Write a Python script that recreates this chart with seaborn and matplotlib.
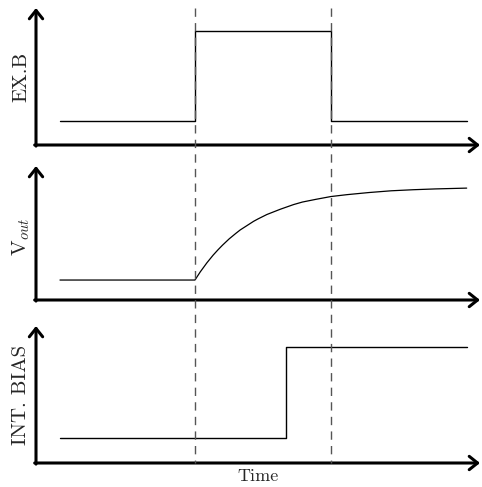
import numpy as np
import matplotlib
matplotlib.use("Agg")
import matplotlib.pyplot as plt
import seaborn as sns
import pandas as pd

sns.set_style("white")
plt.rcParams['font.family'] = ['cmr10', 'Liberation Serif', 'DejaVu Serif']
plt.rcParams['mathtext.fontset'] = 'cm'
plt.rcParams['axes.formatter.use_mathtext'] = True

# signals (time units 0..10, amplitude 0..1)
t_ex = [0.54, 3.57, 6.64, 9.71]
ex_b = [0.175, 0.83, 0.175, 0.175]

t_vout = [0.54, 3.58, 3.7, 3.85, 3.99, 4.1, 4.2, 4.35, 4.5, 4.6, 4.75, 4.9, 5.0,
          5.2, 5.5, 5.8, 6.0, 6.3, 6.64, 7.0, 7.5, 8.0, 8.5, 9.0, 9.7]
v_out = [0.149, 0.149, 0.210, 0.278, 0.335, 0.375, 0.409, 0.456, 0.497, 0.523,
         0.555, 0.587, 0.605, 0.638, 0.677, 0.712, 0.731, 0.751, 0.772, 0.786,
         0.802, 0.815, 0.823, 0.829, 0.835]

t_bias = [0.54, 5.63, 9.71]
int_bias = [0.18, 0.85, 0.85]

edges = [3.57, 6.64]   # dashed markers
labels = ['EX.B', r'V$_{\mathit{out}}$', 'INT. BIAS']

W, H = 482, 487
fig = plt.figure(figsize=(W / 100, H / 100), dpi=100)

def px_axes(top, bottom):
    return fig.add_axes([36 / W, (H - bottom) / H, 444 / W, (bottom - top) / H])

ax1 = px_axes(8, 145)
ax2 = px_axes(166, 300)
ax3 = px_axes(326, 463)
axes = [ax1, ax2, ax3]

sns.lineplot(x=t_ex, y=ex_b, ax=ax1, color='black', lw=1.0,
             drawstyle='steps-post', estimator=None, sort=False)
sns.lineplot(x=t_vout, y=v_out, ax=ax2, color='black', lw=0.9,
             estimator=None, sort=False)
sns.lineplot(x=t_bias, y=int_bias, ax=ax3, color='black', lw=1.0,
             drawstyle='steps-post', estimator=None, sort=False)

label_y = [0.5, 0.47, 0.5]
for ax, lab, ly in zip(axes, labels, label_y):
    ax.set_xlim(0, 10)
    ax.set_ylim(0, 1)
    ax.set_xticks([])
    ax.set_yticks([])
    for s in ax.spines.values():
        s.set_visible(False)
    ax.patch.set_alpha(0)
    arrow = dict(arrowstyle='->,head_length=0.5,head_width=0.4', lw=2.2,
                 color='black', shrinkA=0, shrinkB=0, mutation_scale=12)
    ax.annotate('', xy=(1, 0), xytext=(-0.003, 0), xycoords='axes fraction',
                arrowprops=arrow)
    ax.annotate('', xy=(0, 1), xytext=(0, -0.008), xycoords='axes fraction',
                arrowprops=arrow)
    ax.text(-15 / 444, ly, lab, rotation=90, ha='center', va='center',
            fontsize=15, transform=ax.transAxes)

ax3.text(0.5, -13 / 137, 'Time', ha='center', va='center', fontsize=13,
         transform=ax3.transAxes)

# overlay for dashed lines through all panels
ov = fig.add_axes([36 / W, 0, 444 / W, 1])
ov.set_xlim(0, 10)
ov.set_ylim(H, 0)
ov.axis('off')
ov.patch.set_alpha(0)
for e in edges:
    ov.vlines(e, 8, 463, colors='#555555', linestyles=(0, (6, 4.5)), lw=1.0)

fig.savefig('out.png', dpi=100)
